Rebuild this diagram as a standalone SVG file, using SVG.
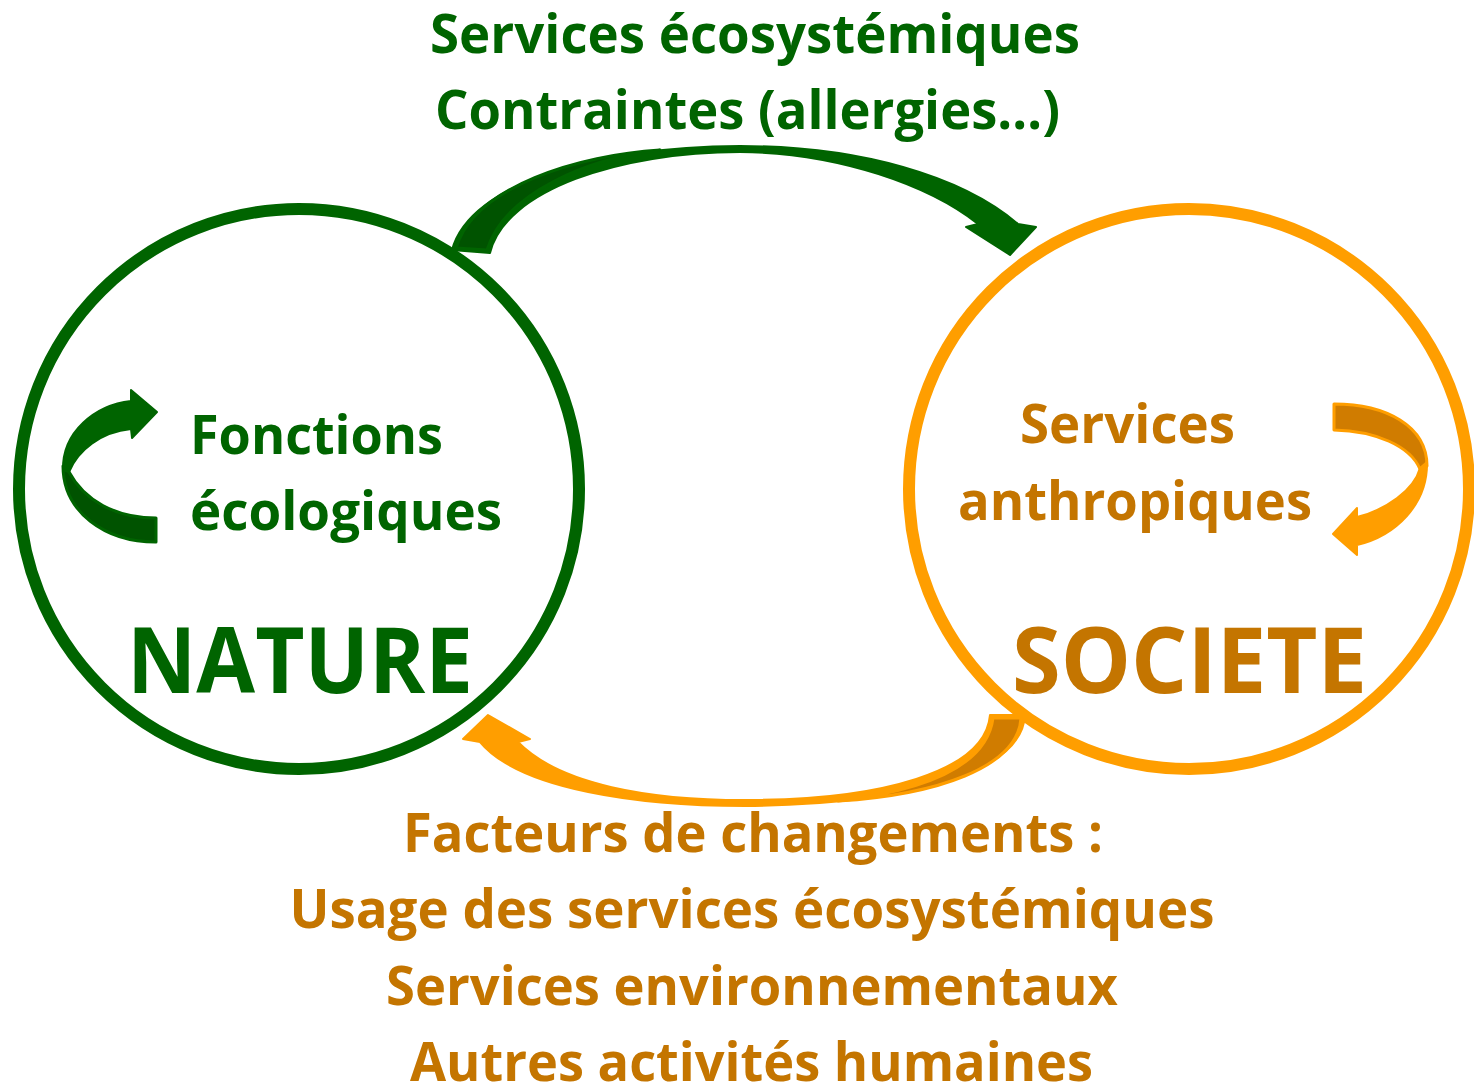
<svg xmlns="http://www.w3.org/2000/svg" width="1474" height="1085" viewBox="0 0 1474 1085">
<style>
.t{font-family:"Open Sans","Noto Sans","Liberation Sans",sans-serif;font-weight:bold;}
.g{fill:#006400;}
.o{fill:#C47500;}
.ring{fill:none;stroke-width:12;}
.ga{fill:#006400;stroke:#006400;stroke-width:2;stroke-linejoin:round;}
.gd{fill:#005300;stroke:#006400;stroke-width:3;stroke-linejoin:round;}
.oa{fill:#FF9E00;stroke:#FF9E00;stroke-width:2;stroke-linejoin:round;}
.od{fill:#D07C00;stroke:#FF9E00;stroke-width:3;stroke-linejoin:round;}
</style>
<rect width="1474" height="1085" fill="#ffffff"/>
<g id="nature">
<circle class="ring" cx="299" cy="489" r="280" stroke="#006400"/>
<path class="gd" d="M63,466 C63,512 105,542 156,542 L156,518 C115,518 84,500 69,472 Z"/>
<path class="ga" d="M63,470 C62,432 95,405 131,401 L131,390 L157,412 L132,438 L131,429 C101,432 78,450 69,472 Z"/>
<text class="t g" x="190" y="454" font-size="54" textLength="253" lengthAdjust="spacingAndGlyphs">Fonctions</text>
<text class="t g" x="190" y="530" font-size="54" textLength="312" lengthAdjust="spacingAndGlyphs">écologiques</text>
<text class="t g" x="127" y="693" font-size="91" textLength="346" lengthAdjust="spacingAndGlyphs">NATURE</text>
</g>
<g id="societe">
<circle class="ring" cx="1189" cy="489" r="280" stroke="#FF9E00"/>
<path class="od" d="M1334,404 C1386,404 1427,426 1427,466 L1420,469 C1410,446 1376,431 1334,430 Z"/>
<path class="oa" d="M1427,462 C1428,505 1395,536 1357,545 L1357,555 L1333,534 L1357,508 L1357,517 C1386,510 1414,490 1420,468 Z"/>
<text class="t o" x="1020" y="443" font-size="54" textLength="215" lengthAdjust="spacingAndGlyphs">Services</text>
<text class="t o" x="958" y="520" font-size="54" textLength="354" lengthAdjust="spacingAndGlyphs">anthropiques</text>
<text class="t o" x="1012" y="693" font-size="91" textLength="355" lengthAdjust="spacingAndGlyphs">SOCIETE</text>
</g>
<g id="connectors">
<g id="arrow-nature-societe">
<path class="ga" d="M452,250 C470,182 600,147 740,146 C860,146 962,176 1018,224 L1036,227 L1010,255 L966,227 L978,224 C930,186 840,153 740,152 C620,152 505,190 490,253 Z"/>
<path class="gd" d="M456,248 C474,186 580,155 660,150 C590,158 505,192 487,250 Z"/>
</g>
<g id="arrow-societe-nature">
<path class="oa" d="M1025,715 C1022,775 900,805 745,806 C640,806 520,790 480,742 L463,739 L488,715 L530,739 L518,742 C560,785 650,800 745,800 C880,800 985,772 990,715 Z"/>
<path class="od" d="M993,718 L1021,718 C1018,768 935,795 838,801 C930,790 987,764 993,718 Z"/>
</g>
</g>
<g id="labels">
<text class="t g" x="755" y="53" font-size="54" text-anchor="middle" textLength="650" lengthAdjust="spacingAndGlyphs">Services écosystémiques</text>
<text class="t g" x="747.5" y="129" font-size="54" text-anchor="middle" textLength="625" lengthAdjust="spacingAndGlyphs">Contraintes (allergies…)</text>
<text class="t o" x="753" y="852" font-size="54" text-anchor="middle" textLength="700" lengthAdjust="spacingAndGlyphs">Facteurs de changements :</text>
<text class="t o" x="752" y="928" font-size="54" text-anchor="middle" textLength="925" lengthAdjust="spacingAndGlyphs">Usage des services écosystémiques</text>
<text class="t o" x="752" y="1005" font-size="54" text-anchor="middle" textLength="732" lengthAdjust="spacingAndGlyphs">Services environnementaux</text>
<text class="t o" x="751.5" y="1081" font-size="54" text-anchor="middle" textLength="683" lengthAdjust="spacingAndGlyphs">Autres activités humaines</text>
</g>
</svg>
